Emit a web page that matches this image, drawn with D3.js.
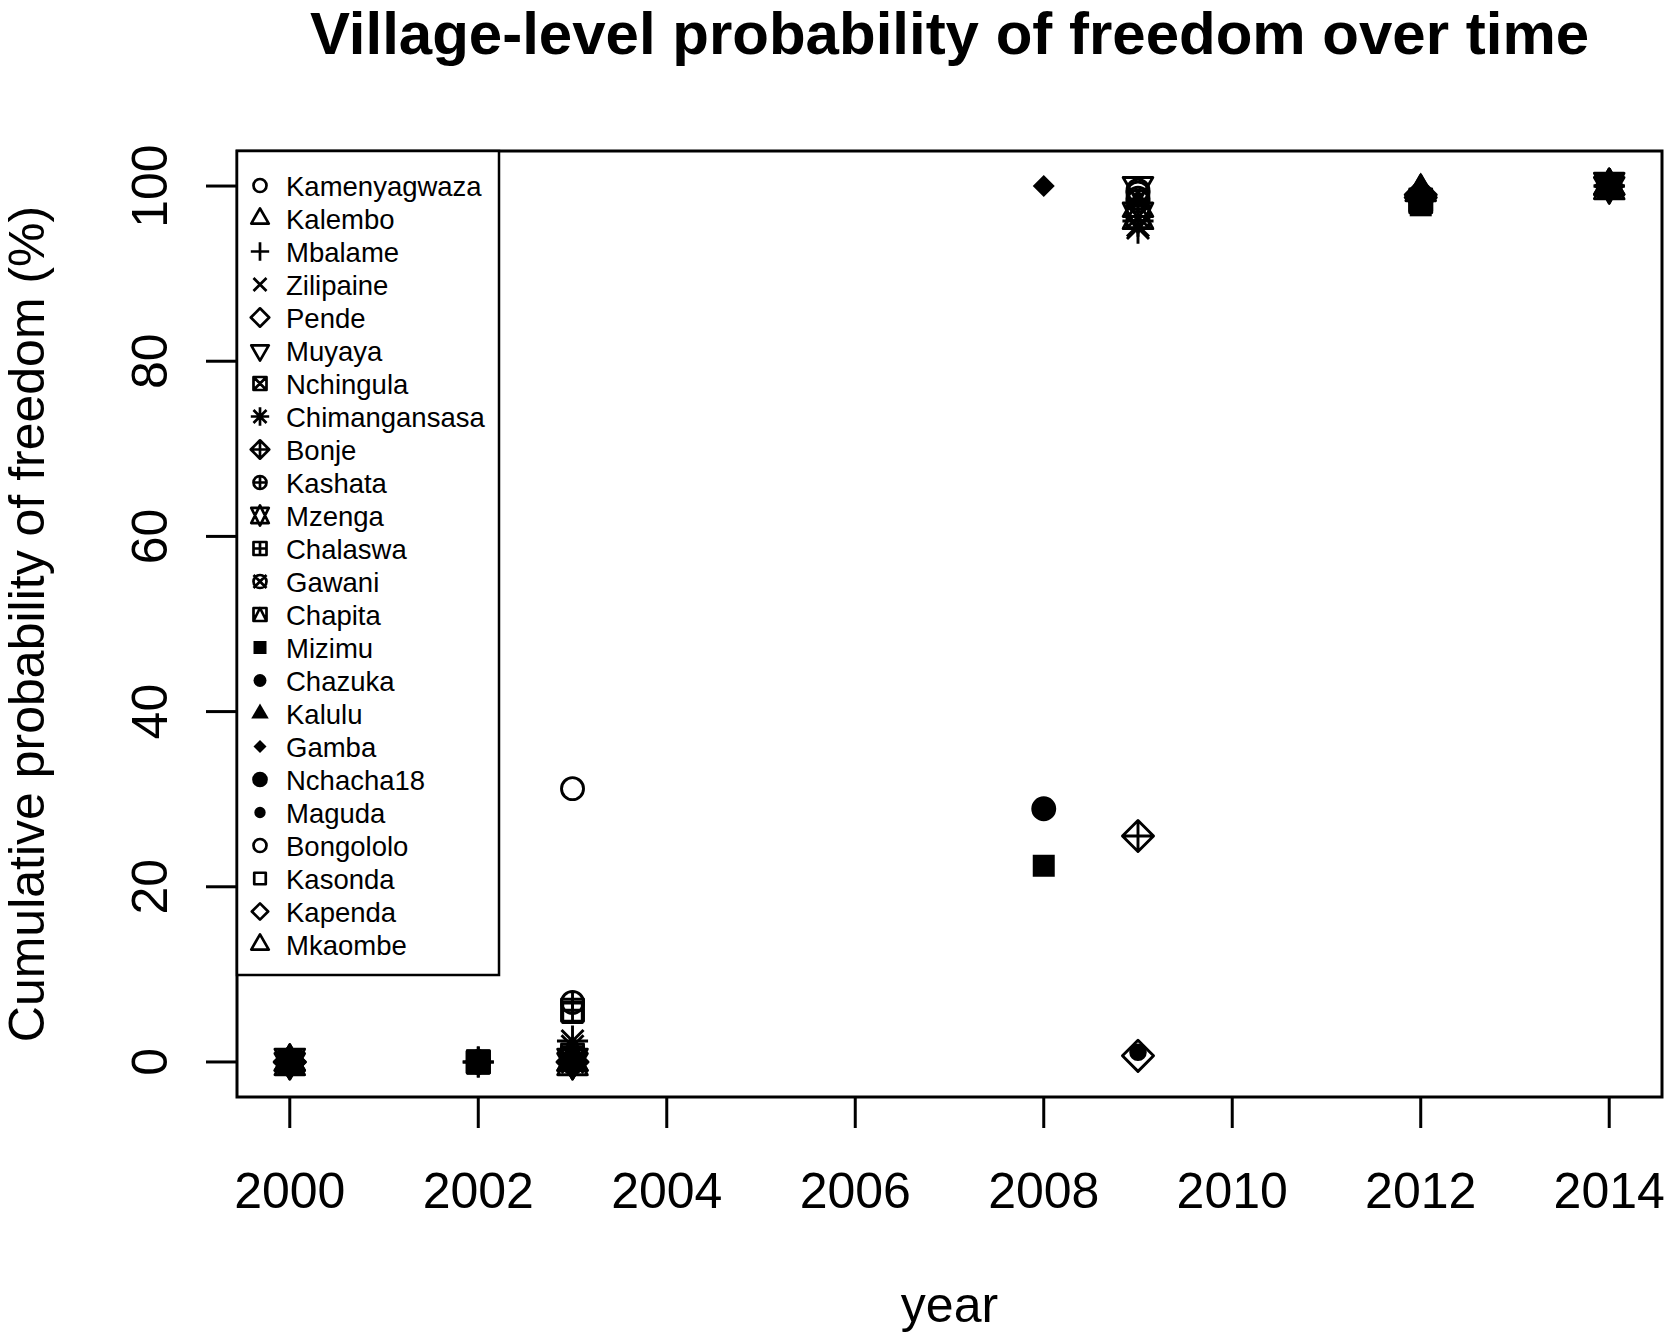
<!DOCTYPE html>
<html>
<head>
<meta charset="utf-8">
<script src="https://cdn.jsdelivr.net/npm/d3@7"></script>
<style>
  body { margin: 0; background: #fff; }
  svg text { font-family: "Liberation Sans", Arial, sans-serif; fill: #000; }
</style>
</head>
<body>
<svg id="chart" width="1672" height="1343"></svg>
<script>
// Villages and their plotting symbols (R pch codes)
const villages = ["Kamenyagwaza", "Kalembo", "Mbalame", "Zilipaine", "Pende", "Muyaya",
  "Nchingula", "Chimangansasa", "Bonje", "Kashata", "Mzenga", "Chalaswa", "Gawani",
  "Chapita", "Mizimu", "Chazuka", "Kalulu", "Gamba", "Nchacha18", "Maguda",
  "Bongololo", "Kasonda", "Kapenda", "Mkaombe"];
const pchs = d3.range(1, 25);

const years = [2000, 2002, 2003, 2008, 2009, 2012, 2014];

// cumulative probability of freedom (%) per village, one array per survey year
const p2000 = [0, 0, null, null, 0, 0, 0, null, 0, null, 0, 0, null, null, null, 0, 0, 0, null, 0, 0, null, 0, 0];
const p2002 = [null, null, 0, 0, null, null, 0, 0, null, 0, null, 0, 0, 0, 0, null, null, null, 0, null, null, 0, null, null];
const p2003 = [31.2, 0, 1.0, 1.8, null, 0, 0.5, 2.4, 0, 6.8, 0, 5.9, 0, 0.8, null, 0, 0, 0, 0, null, 0, 5.6, 0, 0];
const p2008 = [null, null, null, null, null, null, null, null, null, null, null, null, null, null, 22.4, null, null, 100, 28.9, null, null, null, null, null];
const p2009 = [99.5, 97.5, 96, 95.5, 0.7, 100, 96.5, 95.2, 25.8, 98.3, 96.6, null, 98.6, null, null, null, null, null, null, 1.1, 99.2, null, null, null];
const p2012 = [null, null, null, null, 98.7, null, null, null, 99, null, null, 98.4, null, 98.2, 97.8, 98.6, 99.6, 99.2, null, 99.0, null, 98.1, 98.9, 99.3];
const p2014 = [100, 100, 100, 100, null, 100, 100, 100, null, 100, 100, 100, 100, 100, 100, 100, 99.8, null, 100, 100, 100, null, 100, 100];
const byYear = [p2000, p2002, p2003, p2008, p2009, p2012, p2014];

const xTicks = [2000, 2002, 2004, 2006, 2008, 2010, 2012, 2014];
const yTicks = [0, 20, 40, 60, 80, 100];

const svg = d3.select("#chart");
const plot = {left: 237, right: 1662, top: 151, bottom: 1097};

const x = d3.scaleLinear().domain([1999.44, 2014.56]).range([plot.left, plot.right]);
const y = d3.scaleLinear().domain([-4, 104]).range([plot.bottom, plot.top]);

// Build the point list
const points = [];
byYear.forEach((vals, j) => {
  vals.forEach((v, i) => {
    if (v !== null) points.push({year: years[j], value: v, pch: pchs[i]});
  });
});

// R style symbol paths, R = circle radius
const TRC0 = 1.5551, TRC1 = 1.3468, TRC2 = 0.7776, S2 = Math.SQRT2;
function circ(r) { return `M${-r},0A${r},${r} 0 1,0 ${r},0A${r},${r} 0 1,0 ${-r},0Z`; }
function sq(a) { return `M${-a},${-a}H${a}V${a}H${-a}Z`; }
function dmd(a) { return `M0,${-a}L${a},0L0,${a}L${-a},0Z`; }
function plus(a) { return `M${-a},0H${a}M0,${-a}V${a}`; }
function cross(a) { return `M${-a},${-a}L${a},${a}M${-a},${a}L${a},${-a}`; }
function triUp(R) { return `M0,${-TRC0 * R}L${TRC1 * R},${TRC2 * R}L${-TRC1 * R},${TRC2 * R}Z`; }
function triDown(R) { return `M0,${TRC0 * R}L${TRC1 * R},${-TRC2 * R}L${-TRC1 * R},${-TRC2 * R}Z`; }

function symbol(pch, R) {
  switch (pch) {
    case 1: case 21: return {d: circ(R)};
    case 2: case 24: return {d: triUp(R)};
    case 3: return {d: plus(S2 * R)};
    case 4: return {d: cross(R)};
    case 5: return {d: dmd(S2 * R)};
    case 6: return {d: triDown(R)};
    case 7: return {d: sq(R) + cross(R)};
    case 8: return {d: cross(R) + plus(S2 * R)};
    case 9: return {d: dmd(S2 * R) + plus(S2 * R)};
    case 10: return {d: circ(R) + plus(R)};
    case 11: {
      const r = TRC0 * R, yc = 0.5 * (TRC2 + TRC0) * R, xc = TRC1 * R;
      return {d: `M0,${-r}L${xc},${yc}L${-xc},${yc}Z M0,${r}L${xc},${-yc}L${-xc},${-yc}Z`};
    }
    case 12: return {d: sq(R) + plus(R)};
    case 13: return {d: circ(R) + cross(R)};
    case 14: return {d: sq(R) + `M${-R},${R}L0,${-R}L${R},${R}`};
    case 15: return {d: sq(R), fill: true, noStroke: true};
    case 16: return {d: circ(R), fill: true, noStroke: true};
    case 17: return {d: triUp(R), fill: true, noStroke: true};
    case 18: return {d: dmd(R), fill: true, noStroke: true};
    case 19: return {d: circ(R), fill: true};
    case 20: return {d: circ(R * 2 / 3), fill: true};
    case 22: return {d: sq(0.8862 * R)};
    case 23: return {d: dmd(1.2533 * R)};
  }
}

function drawSymbol(g, pch, cx, cy, R, lw) {
  const s = symbol(pch, R);
  g.append("path")
    .attr("transform", `translate(${cx},${cy})`)
    .attr("d", s.d)
    .attr("fill", s.fill ? "#000" : "none")
    .attr("stroke", s.noStroke ? "none" : "#000")
    .attr("stroke-width", lw)
    .attr("stroke-linejoin", "round");
}

// Title
svg.append("text")
  .attr("x", (plot.left + plot.right) / 2)
  .attr("y", 54)
  .attr("text-anchor", "middle")
  .attr("font-size", "60px")
  .attr("font-weight", "bold")
  .text("Village-level probability of freedom over time");

// Points
const pts = svg.append("g");
points.forEach(p => drawSymbol(pts, p.pch, x(p.year), y(p.value), 11, 2.9));

// Axes (ticks + labels)
const ax = svg.append("g").attr("stroke", "#000").attr("stroke-width", 3);
xTicks.forEach(t => {
  ax.append("line").attr("x1", x(t)).attr("x2", x(t)).attr("y1", plot.bottom).attr("y2", plot.bottom + 31);
  svg.append("text").attr("x", x(t)).attr("y", 1208)
    .attr("text-anchor", "middle").attr("font-size", "50px").text(t);
});
yTicks.forEach(t => {
  ax.append("line").attr("x1", plot.left).attr("x2", plot.left - 31).attr("y1", y(t)).attr("y2", y(t));
  svg.append("text")
    .attr("transform", `translate(167,${y(t)}) rotate(-90)`)
    .attr("text-anchor", "middle").attr("font-size", "50px").text(t);
});

// Plot box
svg.append("rect")
  .attr("x", plot.left).attr("y", plot.top)
  .attr("width", plot.right - plot.left).attr("height", plot.bottom - plot.top)
  .attr("fill", "none").attr("stroke", "#000").attr("stroke-width", 3);

// Axis titles
svg.append("text").attr("x", (plot.left + plot.right) / 2).attr("y", 1322)
  .attr("text-anchor", "middle").attr("font-size", "50px").text("year");
svg.append("text")
  .attr("transform", `translate(44,${(plot.top + plot.bottom) / 2}) rotate(-90)`)
  .attr("text-anchor", "middle").attr("font-size", "50px")
  .text("Cumulative probability of freedom (%)");

// Legend
const legend = svg.append("g");
legend.append("rect")
  .attr("x", plot.left).attr("y", plot.top)
  .attr("width", 262).attr("height", 824)
  .attr("fill", "#fff").attr("stroke", "#000").attr("stroke-width", 2.5);
const rowY = d3.scaleLinear().domain([0, villages.length - 1]).range([185.5, 944.5]);
villages.forEach((name, i) => {
  drawSymbol(legend, pchs[i], 260, rowY(i), 6.5, 2.7);
  legend.append("text").attr("x", 286).attr("y", rowY(i) + 10)
    .attr("font-size", "27.5px").text(name);
});
</script>
</body>
</html>
